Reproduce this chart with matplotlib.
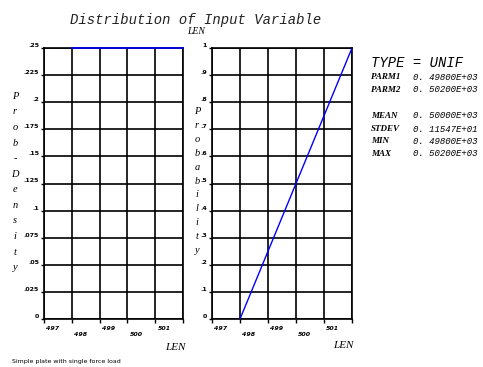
import matplotlib
matplotlib.use("Agg")
import matplotlib.pyplot as plt

# Uniform distribution of LEN between PARM1 and PARM2
x_ticks = [497, 498, 499, 500, 501]
x_tick_labels = ["497", "498", "499", "500", "501"]
x_range = [497, 502]

pdf_x = [498, 502]
pdf_y = [0.25, 0.25]
pdf_ticks = [0, .025, .05, .075, .1, .125, .15, .175, .2, .225, .25]
pdf_tick_labels = ["0", ".025", ".05", ".075", ".1", ".125", ".15", ".175", ".2", ".225", ".25"]

cdf_x = [498, 502]
cdf_y = [0, 1]
cdf_ticks = [0, .1, .2, .3, .4, .5, .6, .7, .8, .9, 1]
cdf_tick_labels = ["0", ".1", ".2", ".3", ".4", ".5", ".6", ".7", ".8", ".9", "1"]

stat_keys = ["PARM1", "PARM2", "", "MEAN", "STDEV", "MIN", "MAX"]
stat_vals = ["0. 49800E+03", "0. 50200E+03", "", "0. 50000E+03",
             "0. 11547E+01", "0. 49800E+03", "0. 50200E+03"]

W, H = 483, 367
fig = plt.figure(figsize=(W / 100, H / 100), dpi=100)


def px(x, y):
    return x / W, 1 - y / H


def make_axes(left, right, top, bottom):
    return fig.add_axes([left / W, 1 - bottom / H, (right - left) / W, (bottom - top) / H])


def style(ax, yticks, ylabels, ymax):
    ax.set_xlim(*x_range)
    ax.set_ylim(0, ymax)
    ax.set_xticks(list(range(x_range[0], x_range[1] + 1)))
    ax.set_xticklabels([])
    ax.set_yticks(yticks)
    ax.set_yticklabels(ylabels, fontsize=4.5, fontweight="bold", va="bottom")
    ax.tick_params(axis="x", direction="out", length=3, width=1, color="black")
    ax.tick_params(axis="y", direction="out", length=2, width=1, pad=1.5)
    ax.grid(True, color="black", linewidth=1.2)
    for s in ax.spines.values():
        s.set_linewidth(1.2)
    trans = ax.get_xaxis_transform()
    for i, (t, lab) in enumerate(zip(x_ticks, x_tick_labels)):
        off = -0.035 if i % 2 == 0 else -0.058
        ax.text(t + 0.08, off, lab, transform=trans, fontsize=4.5, style="italic",
                fontweight="bold", ha="left", va="center")


ax1 = make_axes(44, 183, 48, 319)
ax1.plot(pdf_x, pdf_y, color="blue", linewidth=1.2, clip_on=False, zorder=5)
style(ax1, pdf_ticks, pdf_tick_labels, 0.25)

ax2 = make_axes(212, 352, 48, 319)
ax2.plot(cdf_x, cdf_y, color="blue", linewidth=1, zorder=5)
style(ax2, cdf_ticks, cdf_tick_labels, 1)

# Titles
fig.text(*px(196, 20), "Distribution of Input Variable", family="Liberation Mono",
         style="italic", fontsize=10, ha="center", va="center", color="#222222")
fig.text(*px(196, 32), "LEN", family="Liberation Serif", style="italic",
         fontsize=7, ha="center", va="center")

# Vertical axis titles, one letter per line
fig.text(*px(15, 182), "\n".join("Prob-Density"), family="Liberation Serif",
         style="italic", fontsize=7.5, ha="center", va="center", linespacing=1.94)
fig.text(*px(197, 181), "\n".join("Probability"), family="Liberation Serif",
         style="italic", fontsize=7.5, ha="center", va="center", linespacing=1.71)

fig.text(*px(175, 347), "LEN", family="Liberation Serif", style="italic",
         fontsize=8, ha="center", va="center")
fig.text(*px(343, 346), "LEN", family="Liberation Serif", style="italic",
         fontsize=8, ha="center", va="center")

# Distribution summary
fig.text(*px(371, 63), "TYPE = UNIF", family="Liberation Mono", style="italic",
         fontsize=10, ha="left", va="center")
rows_y = [77, 90, 103, 116, 129, 141, 154]
for y, k, v in zip(rows_y, stat_keys, stat_vals):
    if not k:
        continue
    fig.text(*px(371, y), k, family="Liberation Serif", style="italic",
             fontweight="bold", fontsize=6.5, ha="left", va="center")
    fig.text(*px(413, y), v, family="Liberation Mono", style="italic",
             fontsize=6.5, ha="left", va="center")

fig.text(*px(12, 361), "Simple plate with single force load", fontsize=4.5,
         ha="left", va="center")

fig.savefig("out.png", dpi=100)
